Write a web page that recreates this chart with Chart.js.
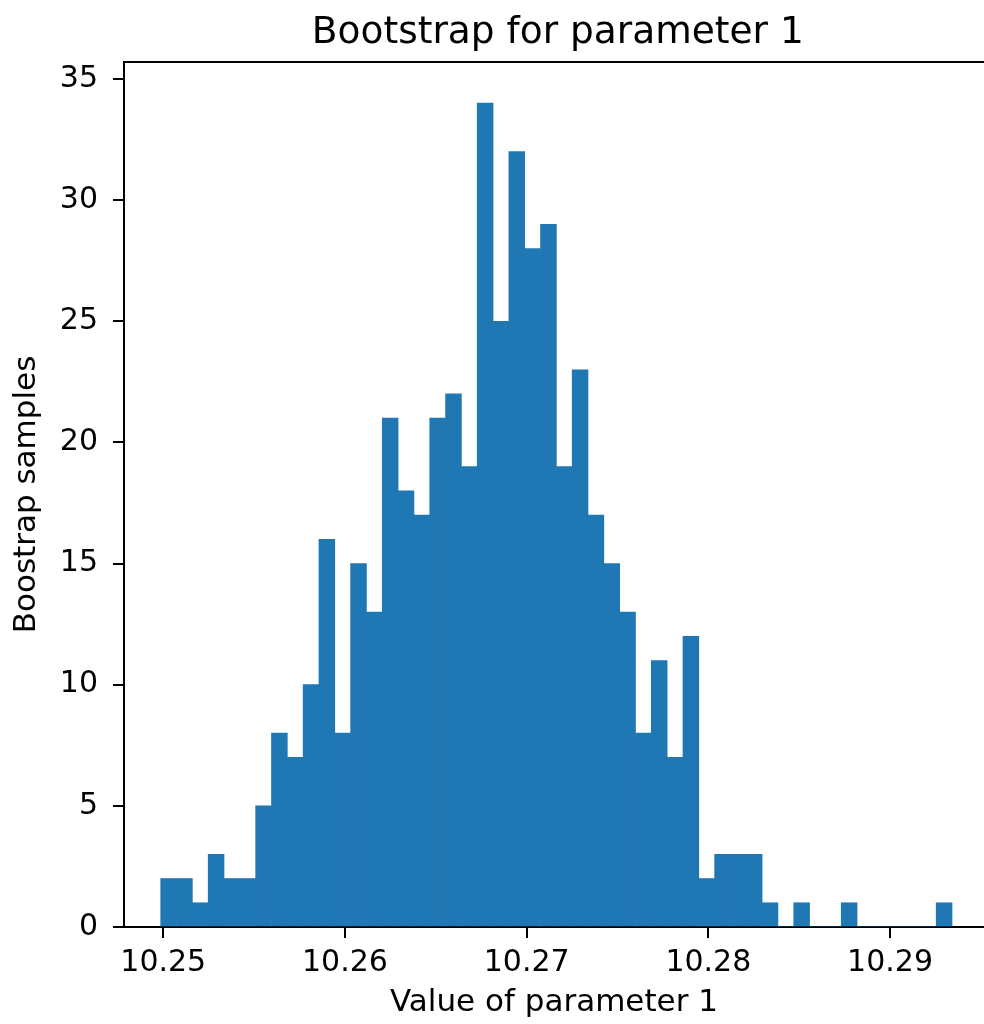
<!DOCTYPE html>
<html lang="en">
<head>
    <meta charset="UTF-8" />
    <title>Bootstrap for parameter 1</title>
    <script src="https://cdn.jsdelivr.net/npm/chart.js"></script>
    <style>
        html, body { margin: 0; padding: 0; background: #fff; }
        .chart-box { width: 984px; height: 1024px; }
    </style>
</head>
<body>
    <div class="chart-box"><canvas id="histChart"></canvas></div>

    <script>
        // histogram: 50 equal bins between the smallest and largest bootstrap value
        const binLow = 10.24986;
        const binHigh = 10.29341;
        const binCounts = [
            2, 2, 1, 3, 2, 2, 5, 8, 7, 10,
            16, 8, 15, 13, 21, 18, 17, 21, 22, 19,
            34, 25, 32, 28, 29, 19, 23, 17, 15, 13,
            8, 11, 7, 12, 2, 3, 3, 3, 1, 0,
            1, 0, 0, 1, 0, 0, 0, 0, 0, 1
        ];
        const xTicks = [10.25, 10.26, 10.27, 10.28, 10.29];
        const yTicks = [0, 5, 10, 15, 20, 25, 30, 35];
        const titleText = 'Bootstrap for parameter 1';

        const binWidth = (binHigh - binLow) / binCounts.length;
        const bins = binCounts.map((c, i) => ({ x: binLow + binWidth * (i + 0.5), y: c }));

        // the axes run a little past the right edge of the picture
        const axesRightValue = 10.29559;

        Chart.defaults.font.family = 'DejaVu Sans';
        Chart.defaults.color = '#000';

        // top spine + title centred over the whole axes
        const frame = {
            id: 'frame',
            afterDraw(chart) {
                const { ctx, chartArea } = chart;
                const right = chart.scales.x.getPixelForValue(axesRightValue);
                ctx.save();
                ctx.strokeStyle = '#000';
                ctx.lineWidth = 2;
                ctx.beginPath();
                ctx.moveTo(chartArea.left - 1, chartArea.top);
                ctx.lineTo(chartArea.right, chartArea.top);
                ctx.stroke();

                ctx.fillStyle = '#000';
                ctx.font = '37.5px "DejaVu Sans"';
                ctx.textAlign = 'center';
                ctx.textBaseline = 'alphabetic';
                ctx.fillText(titleText, (chartArea.left + right) / 2, 43);
                ctx.restore();
            }
        };

        new Chart(document.getElementById('histChart'), {
            type: 'bar',
            data: {
                datasets: [{
                    data: bins,
                    backgroundColor: '#1f77b4',
                    borderWidth: 0,
                    barPercentage: 1,
                    categoryPercentage: 1
                }]
            },
            options: {
                responsive: true,
                maintainAspectRatio: false,
                animation: false,
                layout: { padding: { top: 62, left: 0, right: 0, bottom: 0 } },
                plugins: {
                    legend: { display: false },
                    tooltip: { enabled: false },
                    title: { display: false }
                },
                scales: {
                    x: {
                        type: 'linear',
                        offset: false,
                        min: 10.24784,
                        max: 10.29517,
                        afterFit: s => { s.height = 97; },
                        afterBuildTicks: s => { s.ticks = xTicks.map(v => ({ value: v })); },
                        ticks: {
                            font: { size: 30 },
                            padding: 7,
                            callback: v => v.toFixed(2)
                        },
                        grid: { offset: false, drawOnChartArea: false, drawTicks: true, tickLength: 11, color: '#000', lineWidth: 2 },
                        border: { display: true, color: '#000', width: 2 },
                        title: {
                            display: true,
                            text: 'Value of parameter 1',
                            font: { size: 31 },
                            padding: { top: 0, bottom: 2 }
                        }
                    },
                    y: {
                        min: 0,
                        max: 35.7,
                        afterFit: s => { s.width = 124; },
                        afterBuildTicks: s => { s.ticks = yTicks.map(v => ({ value: v })); },
                        ticks: { font: { size: 30 }, padding: 15 },
                        grid: { drawOnChartArea: false, drawTicks: true, tickLength: 11, color: '#000', lineWidth: 2 },
                        border: { display: true, color: '#000', width: 2 },
                        title: {
                            display: true,
                            text: 'Boostrap samples',
                            font: { size: 31 },
                            padding: { top: 8, bottom: 0 }
                        }
                    }
                }
            },
            plugins: [frame]
        });
    </script>
</body>
</html>
